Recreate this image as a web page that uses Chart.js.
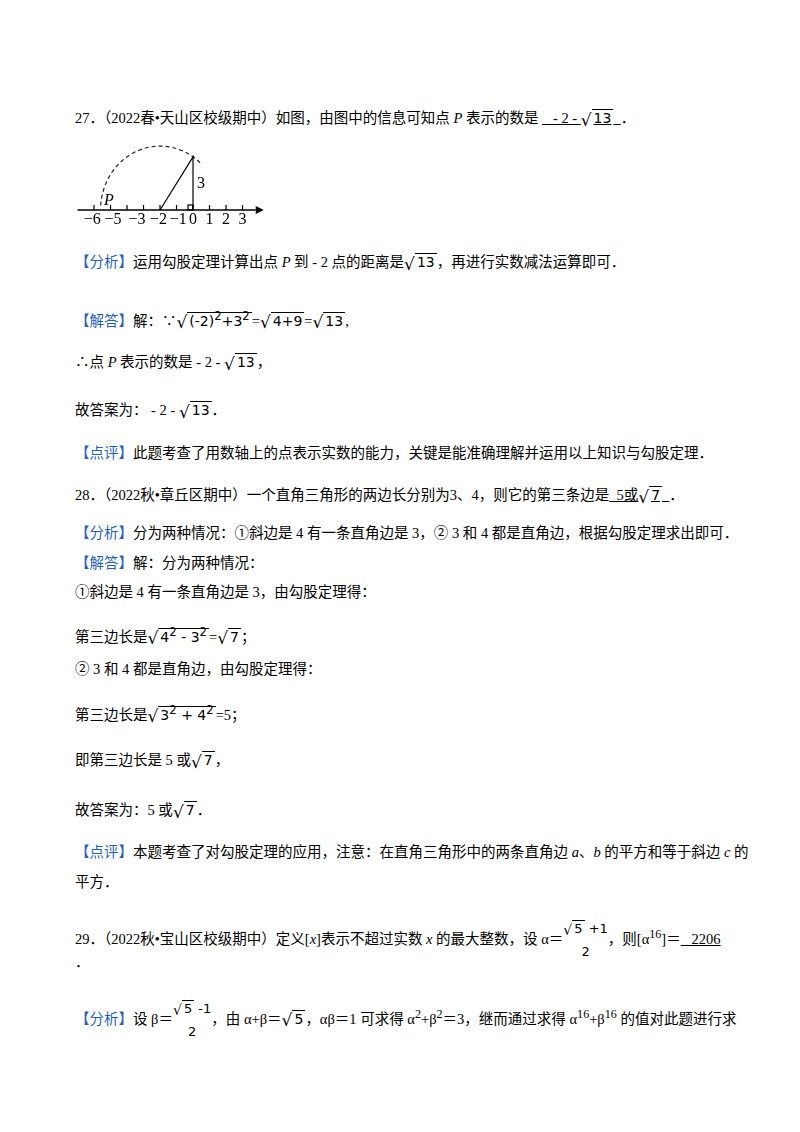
<!DOCTYPE html><html><head><meta charset="utf-8">
<script src="https://cdn.jsdelivr.net/npm/chart.js@4"></script>
<style>
body{margin:0;width:800px;height:1132px;background:#fff;position:relative;font-family:"Liberation Serif","Noto Sans CJK SC",serif;font-size:14.5px;color:#000}
.l{position:absolute;left:75px;white-space:nowrap;line-height:20px}
.b{color:#1f5fbf}
.r{display:inline-block;font-family:"DejaVu Sans",sans-serif;font-size:17px;vertical-align:middle}
.o{border-top:1px solid #000;padding:0 2px;font-family:"DejaVu Sans",sans-serif;font-size:14px}
.u{text-decoration:underline}
.f{display:inline-block;vertical-align:middle;text-align:center;font-family:"DejaVu Sans",sans-serif;font-size:13px;line-height:22px}
i{font-style:italic}
</style></head><body>
<div class="l" style="top:108px">27．（2022春•天山区校级期中）如图，由图中的信息可知点 <i>P</i> 表示的数是 <span class="u">&nbsp;&nbsp;&nbsp;- 2 - <span class="r">√</span><span class="o">13</span>&nbsp;&nbsp;</span>．</div>
<div style="position:absolute;left:60px;top:140px;width:220px;height:90px"><canvas id="c"></canvas></div>
<div class="l" style="top:252px"><span class="b">【分析】</span>运用勾股定理计算出点 <i>P</i> 到 - 2 点的距离是<span class="r">√</span><span class="o">13</span>，再进行实数减法运算即可．</div>
<div class="l" style="top:306px"><span class="b">【解答】</span>解：∵<span class="r">√</span><span class="o">(-2)<sup>2</sup>+3<sup>2</sup></span>=<span class="r">√</span><span class="o">4+9</span>=<span class="r">√</span><span class="o">13</span>,</div>
<div class="l" style="top:352px">∴点 <i>P</i> 表示的数是 - 2 - <span class="r">√</span><span class="o">13</span>，</div>
<div class="l" style="top:400px">故答案为： - 2 - <span class="r">√</span><span class="o">13</span>．</div>
<div class="l" style="top:443px"><span class="b">【点评】</span>此题考查了用数轴上的点表示实数的能力，关键是能准确理解并运用以上知识与勾股定理．</div>
<div class="l" style="top:485px">28．（2022秋•章丘区期中）一个直角三角形的两边长分别为3、4，则它的第三条边是<span class="u">&nbsp;&nbsp;5或<span class="r">√</span><span class="o">7</span>&nbsp;&nbsp;</span>．</div>
<div class="l" style="top:523px"><span class="b">【分析】</span>分为两种情况：①斜边是 4 有一条直角边是 3，② 3 和 4 都是直角边，根据勾股定理求出即可．</div>
<div class="l" style="top:553px"><span class="b">【解答】</span>解：分为两种情况：</div>
<div class="l" style="top:582px">①斜边是 4 有一条直角边是 3，由勾股定理得：</div>
<div class="l" style="top:622px">第三边长是<span class="r">√</span><span class="o">4<sup>2</sup> - 3<sup>2</sup></span>=<span class="r">√</span><span class="o">7</span>；</div>
<div class="l" style="top:659px">② 3 和 4 都是直角边，由勾股定理得：</div>
<div class="l" style="top:700px">第三边长是<span class="r">√</span><span class="o">3<sup>2</sup> + 4<sup>2</sup></span>=5；</div>
<div class="l" style="top:750px">即第三边长是 5 或<span class="r">√</span><span class="o">7</span>，</div>
<div class="l" style="top:800px">故答案为：5 或<span class="r">√</span><span class="o">7</span>．</div>
<div class="l" style="top:842px"><span class="b">【点评】</span>本题考查了对勾股定理的应用，注意：在直角三角形中的两条直角边 <i>a</i>、<i>b</i> 的平方和等于斜边 <i>c</i> 的</div>
<div class="l" style="top:872px">平方．</div>
<div class="l" style="top:918px">29．（2022秋•宝山区校级期中）定义[<i>x</i>]表示不超过实数 <i>x</i> 的最大整数，设 α＝<span class="f"><span class="r" style="font-size:14px">√</span><span class="o" style="font-size:13px">5</span> +1<br>2</span>，则[α<sup>16</sup>]＝<span class="u">&nbsp;&nbsp;&nbsp;2206</span></div>
<div class="l" style="top:952px">．</div>
<div class="l" style="top:998px"><span class="b">【分析】</span>设 β＝<span class="f"><span class="r" style="font-size:14px">√</span><span class="o" style="font-size:13px">5</span> -1<br>2</span>，由 α+β＝<span class="r">√</span><span class="o">5</span>，αβ＝1 可求得 α<sup>2</sup>+β<sup>2</sup>＝3，继而通过求得 α<sup>16</sup>+β<sup>16</sup> 的值对此题进行求</div>
<script>
const tickValues=[-6,-5,-4,-3,-2,-1,0,1,2,3];
const labelValues=[-6.1,-4.85,-3.4,-2.1,-0.9,0,1,2,3];
const labelTexts=["−6","−5","−3","−2","−1","0","1","2","3"];
const triangle=[{x:-2,y:0},{x:0,y:3},{x:0,y:0}];
const center=-2, radius=Math.sqrt(13);
const arcAngles=[];for(let a=176;a>=46;a-=3)arcAngles.push(a);
const arcPts=arcAngles.map(a=>({x:center+radius*Math.cos(a*Math.PI/180),y:radius*Math.sin(a*Math.PI/180)}));
const axisLine=[{x:-7,y:0},{x:3.8,y:0}];
const deco={id:'deco',afterDatasetsDraw(ch){
 const c=ch.ctx,xs=ch.scales.x,ys=ch.scales.y,y0=ys.getPixelForValue(0);
 c.save();c.strokeStyle='#000';c.fillStyle='#000';c.lineWidth=1.2;
 tickValues.forEach(v=>{const x=xs.getPixelForValue(v);c.beginPath();c.moveTo(x,y0);c.lineTo(x,y0-5);c.stroke();});
 const xe=xs.getPixelForValue(3.8);c.beginPath();c.moveTo(xe+8,y0);c.lineTo(xe,y0-4);c.lineTo(xe,y0+4);c.fill();
 const x0=xs.getPixelForValue(0);c.strokeRect(x0-5,y0-5,5,5);
 c.font='16px "Liberation Serif",serif';c.textAlign='center';c.textBaseline='top';
 labelValues.forEach((v,i)=>c.fillText(labelTexts[i],xs.getPixelForValue(v),y0+2));
 c.textBaseline='bottom';c.fillText('3',x0+8,ys.getPixelForValue(1.5)+8);
 c.font='italic 16px "Liberation Serif",serif';c.fillText('P',xs.getPixelForValue(-5.1),y0-1);
 c.restore();}};
new Chart(document.getElementById('c'),{type:'scatter',
 data:{datasets:[
  {data:axisLine,showLine:true,borderColor:'#000',borderWidth:1.5,pointRadius:0},
  {data:triangle,showLine:true,borderColor:'#000',borderWidth:1.2,pointRadius:0},
  {data:arcPts,showLine:true,borderColor:'#222',borderWidth:1.2,borderDash:[4,3],pointRadius:0}]},
 options:{responsive:true,maintainAspectRatio:false,animation:false,layout:{padding:0},
  plugins:{legend:{display:false},tooltip:{enabled:false}},
  scales:{x:{type:'linear',display:false,min:-8.06,max:5.27},y:{type:'linear',display:false,min:-1.13,max:3.95}}},
 plugins:[deco]});
</script></body></html>
